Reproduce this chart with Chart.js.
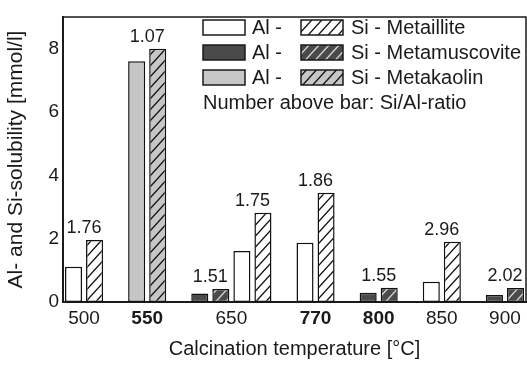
<!DOCTYPE html>
<html>
<head>
<meta charset="utf-8">
<script src="https://cdn.jsdelivr.net/npm/chart.js@4.4.0/dist/chart.umd.min.js"></script>
<style>
  html, body { margin: 0; padding: 0; background: #fff; }
  #wrap { width: 527px; height: 365px; }
</style>
</head>
<body>
<div id="wrap"><canvas id="chart" width="527" height="365"></canvas></div>
<script>
// calcination temperatures [°C]; the bold ones are the optimum per mineral
const temperatures = ['500', '550', '650', '770', '800', '850', '900'];
const boldTemps = ['550', '770', '800'];

// Al / Si solubility [mmol/l] per temperature, null = not measured
const illiteAl = [1.11, null, 1.61, 1.87, null, 0.64, null];
const illiteSi = [1.96, null, 2.82, 3.45, null, 1.90, null];
const illiteRatio = ['1.76', null, '1.75', '1.86', null, '2.96', null];

const muscoviteAl = [null, null, 0.27, null, 0.29, null, 0.22];
const muscoviteSi = [null, null, 0.41, null, 0.45, null, 0.44];
const muscoviteRatio = [null, null, '1.51', null, '1.55', null, '2.02'];

const kaolinAl = [null, 7.60, null, null, null, null, null];
const kaolinSi = [null, 8.00, null, null, null, null, null];
const kaolinRatio = [null, '1.07', null, null, null, null, null];

const FONT = "'Liberation Sans', Arial, sans-serif";
const INK = '#1a1a1a';

function hatch(fill, line) {
    const c = document.createElement('canvas');
    c.width = 10; c.height = 11;
    const g = c.getContext('2d');
    g.fillStyle = fill;
    g.fillRect(0, 0, 10, 11);
    g.strokeStyle = line;
    g.lineWidth = 1.3;
    g.beginPath();
    g.moveTo(-1, 12.1); g.lineTo(11, -1.1);
    g.moveTo(-1, 1.1); g.lineTo(1, -1.1);
    g.moveTo(9, 12.1); g.lineTo(11, 9.9);
    g.stroke();
    return g.createPattern(c, 'repeat');
}

// order inside a temperature group: kaolin, muscovite, illite
const minerals = [
    { name: 'Metakaolin', al: kaolinAl, si: kaolinSi, ratio: kaolinRatio, fill: '#c6c6c6', line: '#111' },
    { name: 'Metamuscovite', al: muscoviteAl, si: muscoviteSi, ratio: muscoviteRatio, fill: '#4a4a4a', line: '#d8d8d8' },
    { name: 'Metaillite', al: illiteAl, si: illiteSi, ratio: illiteRatio, fill: '#ffffff', line: '#111' }
];

// lay the bars out on slots: Al, Si pairs, one empty slot between temperatures
const alSlots = minerals.map(() => []);
const siSlots = minerals.map(() => []);
const groupCenters = [];
const ratioLabels = [];
let slot = 0;
temperatures.forEach((t, ti) => {
    const start = slot;
    minerals.forEach((m, mi) => {
        if (m.al[ti] == null) return;
        alSlots[mi][slot] = m.al[ti];
        siSlots[mi][slot + 1] = m.si[ti];
        ratioLabels.push({ x: slot + 0.5, top: Math.max(m.al[ti], m.si[ti]), text: m.ratio[ti] });
        slot += 2;
    });
    groupCenters.push((start + slot - 1) / 2);
    slot += 1;
});
const slotCount = slot - 1;
const slotLabels = Array.from({ length: slotCount }, (_, i) => String(i));
const fillSlots = arr => slotLabels.map((_, i) => arr[i] === undefined ? null : arr[i]);

const datasets = [];
minerals.forEach((m, mi) => {
    datasets.push({ label: 'Al - ' + m.name, data: fillSlots(alSlots[mi]), backgroundColor: m.fill });
    datasets.push({ label: 'Si - ' + m.name, data: fillSlots(siSlots[mi]), backgroundColor: hatch(m.fill, m.line) });
});
datasets.forEach(d => {
    d.borderColor = '#111';
    d.borderWidth = 1.5;
    d.borderSkipped = false;
    d.skipNull = true;
    d.categoryPercentage = 1;
    d.barPercentage = 0.81;
});

// Si/Al ratio above each pair
const ratioPlugin = {
    id: 'ratios',
    afterDatasetsDraw(chart) {
        const ctx = chart.ctx;
        const xs = chart.scales.xl, ys = chart.scales.y;
        ctx.save();
        ctx.font = '18px ' + FONT;
        ctx.fillStyle = INK;
        ctx.textAlign = 'center';
        ctx.textBaseline = 'alphabetic';
        ratioLabels.forEach(r => {
            ctx.fillText(r.text, xs.getPixelForValue(r.x), ys.getPixelForValue(r.top) - 7);
        });
        ctx.restore();
    }
};

// plot frame and the legend block
const framePlugin = {
    id: 'frame',
    afterDraw(chart) {
        const ctx = chart.ctx;
        const a = chart.chartArea;
        ctx.save();
        ctx.strokeStyle = INK;
        ctx.lineWidth = 1.5;
        ctx.beginPath();
        ctx.moveTo(a.left, a.top);
        ctx.lineTo(a.right, a.top);
        ctx.lineTo(a.right, a.bottom);
        ctx.stroke();

        const x0 = 203, y0 = 20, rowH = 25, sw = 42, sh = 15;
        ctx.font = '20px ' + FONT;
        ctx.fillStyle = INK;
        ctx.textBaseline = 'middle';
        const order = [2, 1, 0];
        order.forEach((mi, row) => {
            const m = minerals[mi];
            const y = y0 + row * rowH;
            ctx.fillStyle = m.fill;
            ctx.fillRect(x0, y, sw, sh);
            ctx.strokeRect(x0, y, sw, sh);
            ctx.fillStyle = hatch(m.fill, m.line);
            ctx.fillRect(x0 + 98, y, sw, sh);
            ctx.strokeRect(x0 + 98, y, sw, sh);
            ctx.fillStyle = INK;
            ctx.fillText('Al -', x0 + 49, y + sh / 2 + 1);
            ctx.fillText('Si - ' + m.name, x0 + 148, y + sh / 2 + 1);
        });
        ctx.fillText('Number above bar: Si/Al-ratio', x0, y0 + 3 * rowH + sh / 2 + 1);
        ctx.restore();
    }
};

new Chart(document.getElementById('chart'), {
    type: 'bar',
    data: { labels: slotLabels, datasets: datasets },
    options: {
        responsive: false,
        animation: false,
        layout: { padding: { top: 17, right: 1, left: 0, bottom: 0 } },
        plugins: { legend: { display: false }, tooltip: { enabled: false } },
        scales: {
            x: { type: 'category', display: false, offset: true },
            xl: {
                type: 'linear',
                position: 'bottom',
                bounds: 'data',
                offset: false,
                min: -0.5,
                max: slotCount - 0.5,
                afterBuildTicks: s => { s.ticks = groupCenters.map(v => ({ value: v })); },
                afterFit: s => { s.height = 63; },
                ticks: {
                    autoSkip: false,
                    maxRotation: 0,
                    padding: 5,
                    color: INK,
                    callback: (v, i) => temperatures[i],
                    font: c => ({ family: FONT, size: 19, weight: boldTemps.includes(temperatures[c.index]) ? 'bold' : 'normal' })
                },
                grid: { display: false, drawTicks: false, offset: false },
                border: { color: INK, width: 2 },
                title: { display: true, text: 'Calcination temperature [°C]', color: INK, font: { family: FONT, size: 20 } }
            },
            y: {
                min: 0,
                max: 9,
                afterFit: s => { s.width = 63; },
                ticks: {
                    stepSize: 2,
                    padding: 4,
                    color: INK,
                    font: { family: FONT, size: 19 },
                    callback: v => (v % 2 === 0 ? v : '')
                },
                grid: { display: false, drawTicks: false },
                border: { color: INK, width: 2 },
                title: { display: true, text: 'Al- and Si-solubility [mmol/l]', color: INK, font: { family: FONT, size: 21 } }
            }
        }
    },
    plugins: [ratioPlugin, framePlugin]
});
</script>
</body>
</html>
